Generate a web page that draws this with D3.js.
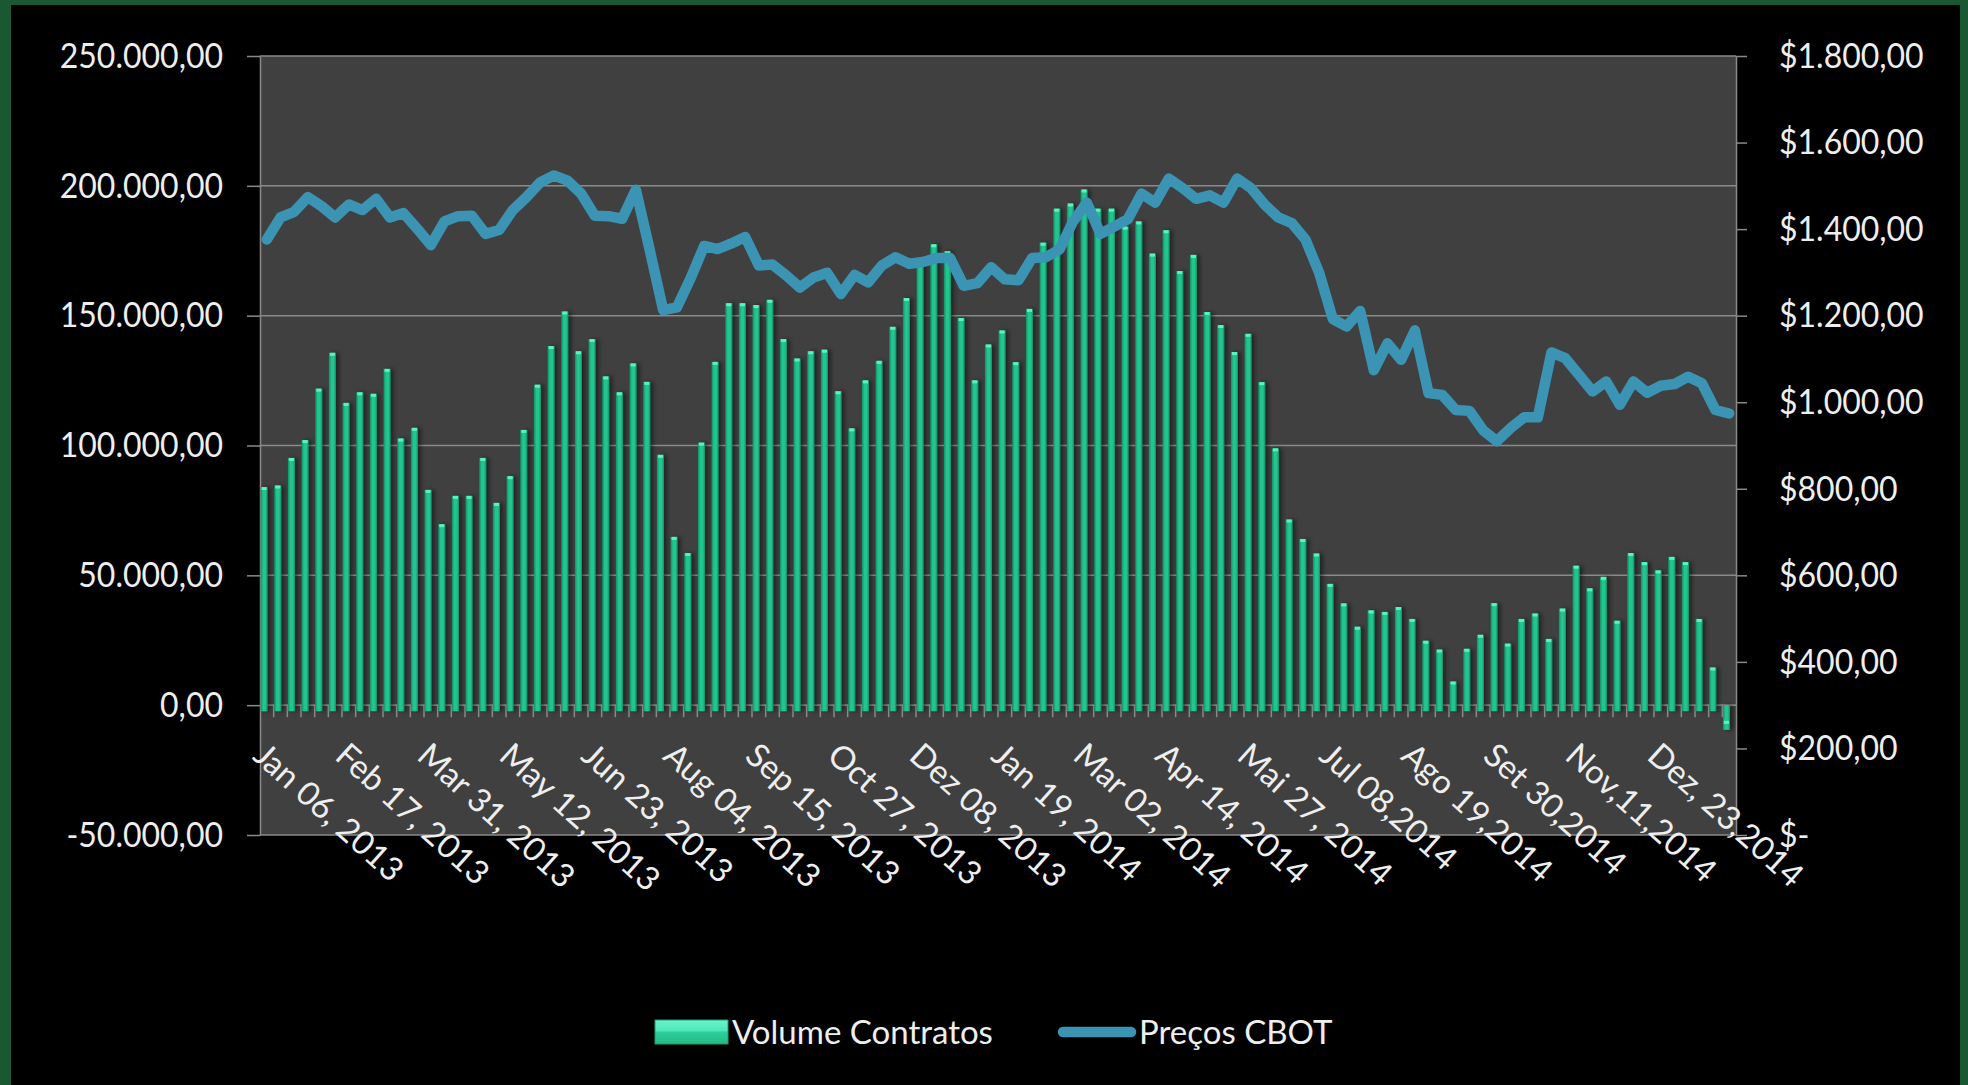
<!DOCTYPE html>
<html>
<head>
<meta charset="utf-8">
<script src="https://cdn.jsdelivr.net/npm/d3@7"></script>
<style>
  body { margin: 0; background: #000; }
  text { font-family: Lato, "Open Sans", sans-serif; fill: #eeeeee; }
</style>
</head>
<body>
<script>
/**********************
 ***      Data      ***
 **********************/

// weekly volume of contracts (bars, left axis)
const volume = [
  84000, 84600, 95200, 102100, 121900, 135700, 116400, 120500, 119900, 129500,
  102700, 106800, 82900, 69700, 80600, 80600, 95200, 77900, 88200, 106000,
  123400, 138300, 151600, 136300, 141000, 126600, 120500, 131600, 124500, 96400,
  64800, 58600, 101100, 132200, 154800, 154800, 154100, 156100, 141000, 133500,
  136300, 136900, 120900, 106600, 125100, 132600, 145700, 156800, 170000, 177500,
  174800, 149100, 125100, 138900, 144300, 132100, 152600, 178100, 191200, 193200,
  198600, 191200, 191200, 184300, 186300, 173900, 182900, 167200, 173400, 151400,
  146400, 136000, 143000, 124400, 98900, 71500, 64000, 58400, 46700, 39200,
  30200, 36500, 35900, 37800, 33200, 24800, 21400, 9100, 21700, 27100,
  39300, 23700, 33200, 35300, 25500, 37200, 53700, 45000, 49400, 32500,
  58600, 55100, 51900, 57100, 55100, 33200, 14500, -7200
];

// CBOT prices (line, right axis)
const price = [
  1376, 1427, 1440, 1474, 1453, 1427, 1457, 1444, 1470, 1427, 1437, 1401,
  1363, 1418, 1430, 1431, 1389, 1398, 1444, 1474, 1508, 1524,
  1512, 1482, 1431, 1430, 1424, 1491, 1354, 1213, 1219, 1286, 1361, 1354,
  1367, 1382, 1316, 1318, 1293, 1265, 1288, 1299, 1250,
  1294, 1277, 1316, 1335, 1320, 1324, 1333, 1333, 1269, 1275, 1312, 1284,
  1282, 1333, 1335, 1353, 1418, 1461, 1389, 1406, 1423,
  1482, 1461, 1517, 1495, 1470, 1478, 1461, 1517, 1495, 1457, 1427, 1414,
  1376, 1299, 1192, 1175, 1211, 1074, 1136, 1098, 1166,
  1021, 1017, 982, 980, 935, 910, 940, 965, 965, 1115, 1102, 1064,
  1025, 1048, 994, 1048, 1022, 1038, 1042, 1059, 1044, 982, 974
];

// category labels, shown every 6 weeks
const tickLabels = [
  "Jan 06, 2013", "Feb 17, 2013", "Mar 31, 2013", "May 12, 2013", "Jun 23, 2013",
  "Aug 04, 2013", "Sep 15, 2013", "Oct 27, 2013", "Dez 08, 2013", "Jan 19, 2014",
  "Mar 02, 2014", "Apr 14, 2014", "Mai 27, 2014", "Jul 08,2014", "Ago 19,2014",
  "Set 30,2014", "Nov,11,2014", "Dez, 23,2014"
];
const labelEvery = 6;

const leftTicks = [-50000, 0, 50000, 100000, 150000, 200000, 250000];
const rightTicks = [0, 200, 400, 600, 800, 1000, 1200, 1400, 1600, 1800];

const seriesNames = ["Volume Contratos", "Preços CBOT"];

/**********************
 ***   Constants    ***
 **********************/
const SCREEN = { width: 1968, height: 1085 };
const PLOT = { left: 260, right: 1736, top: 56, bottom: 835 };

const COLORS = {
  frame: "#1a5834",
  plot: "#404040",
  grid: "#8a8a8a",
  line: "#3b94b3",
  barDark: "#0f8d63",
  barLight: "#22c590"
};

const ptBR = d3.formatLocale({
  decimal: ",", thousands: ".", grouping: [3], currency: ["$", ""], minus: "-"
});
const fmtLeft = ptBR.format(",.2f");
const fmtRight = d => d === 0 ? "$-" : ptBR.format("$,.2f")(d);

/**********************
 ***     Scales     ***
 **********************/
const x = d3.scaleBand()
  .domain(volume.map((d, i) => i))
  .range([PLOT.left, PLOT.right])
  .padding(0);
const bw = x.bandwidth();

const yLeft = d3.scaleLinear().domain([-50000, 250000]).range([PLOT.bottom, PLOT.top]);
const yRight = d3.scaleLinear().domain([0, 1800]).range([PLOT.bottom, PLOT.top]);

/**********************
 ***      SVG       ***
 **********************/
const svg = d3.select("body").append("svg")
  .attr("width", SCREEN.width)
  .attr("height", SCREEN.height);

const defs = svg.append("defs");
const grad = defs.append("linearGradient").attr("id", "barGrad")
  .attr("x1", "0%").attr("x2", "100%").attr("y1", "0%").attr("y2", "0%");
grad.append("stop").attr("offset", "0%").attr("stop-color", COLORS.barDark);
grad.append("stop").attr("offset", "35%").attr("stop-color", COLORS.barLight);
grad.append("stop").attr("offset", "70%").attr("stop-color", COLORS.barLight);
grad.append("stop").attr("offset", "100%").attr("stop-color", COLORS.barDark);

const shadow = defs.append("filter").attr("id", "shadow")
  .attr("x", "-50%").attr("y", "-5%").attr("width", "250%").attr("height", "110%");
shadow.append("feDropShadow").attr("dx", 3).attr("dy", 0)
  .attr("stdDeviation", 2).attr("flood-color", "#000").attr("flood-opacity", 0.45);

const legGrad = defs.append("linearGradient").attr("id", "legGrad")
  .attr("x1", "0%").attr("x2", "0%").attr("y1", "0%").attr("y2", "100%");
legGrad.append("stop").attr("offset", "0%").attr("stop-color", "#6af5cc");
legGrad.append("stop").attr("offset", "45%").attr("stop-color", "#4fe6b8");
legGrad.append("stop").attr("offset", "50%").attr("stop-color", "#2dcf9a");
legGrad.append("stop").attr("offset", "100%").attr("stop-color", "#25b986");

// green frame + black background
svg.append("rect").attr("width", SCREEN.width).attr("height", SCREEN.height).attr("fill", COLORS.frame);
svg.append("rect").attr("x", 11).attr("y", 5)
  .attr("width", SCREEN.width - 11 - 8).attr("height", SCREEN.height - 5)
  .attr("fill", "#000");

// plot area
svg.append("rect")
  .attr("x", PLOT.left).attr("y", PLOT.top)
  .attr("width", PLOT.right - PLOT.left).attr("height", PLOT.bottom - PLOT.top)
  .attr("fill", COLORS.plot);

// gridlines
svg.append("g").selectAll("line")
  .data(leftTicks)
  .join("line")
  .attr("x1", PLOT.left).attr("x2", PLOT.right)
  .attr("y1", d => yLeft(d)).attr("y2", d => yLeft(d))
  .attr("stroke", COLORS.grid).attr("stroke-width", 1.5);

/**********************
 ***      Axes      ***
 **********************/
const leftAxis = svg.append("g")
  .attr("transform", `translate(${PLOT.left},0)`)
  .call(d3.axisLeft(yLeft).tickValues(leftTicks).tickFormat(fmtLeft)
    .tickSize(13).tickSizeOuter(0).tickPadding(24));

const rightAxis = svg.append("g")
  .attr("transform", `translate(${PLOT.right},0)`)
  .call(d3.axisRight(yRight).tickValues(rightTicks).tickFormat(fmtRight)
    .tickSize(11).tickSizeOuter(0).tickPadding(32));

[leftAxis, rightAxis].forEach(g => {
  g.selectAll("path, line").attr("stroke", COLORS.grid).attr("stroke-width", 1.5);
  g.selectAll("text")
    .style("font-family", "Lato, 'Open Sans', sans-serif")
    .style("font-size", "32px")
    .attr("transform", "scale(1,1.1)")
    .attr("fill", "#eeeeee");
});

// category axis at zero
const zeroY = yLeft(0);
const catAxis = svg.append("g");
catAxis.append("line")
  .attr("x1", PLOT.left).attr("x2", PLOT.right)
  .attr("y1", zeroY).attr("y2", zeroY)
  .attr("stroke", COLORS.grid).attr("stroke-width", 1.5);
catAxis.selectAll("line.tick")
  .data(x.domain().slice(1))
  .join("line")
  .attr("class", "tick")
  .attr("x1", d => x(d)).attr("x2", d => x(d))
  .attr("y1", zeroY).attr("y2", zeroY + 12)
  .attr("stroke", COLORS.grid).attr("stroke-width", 1.5);

/**********************
 ***      Bars      ***
 **********************/
const barW = bw * 0.52;
const barX = i => x(i) + bw * 0.04;

const bars = svg.append("g").attr("filter", "url(#shadow)");
bars.selectAll("rect.bar")
  .data(volume)
  .join("rect")
  .attr("class", "bar")
  .attr("x", (d, i) => barX(i))
  .attr("width", barW)
  .attr("y", d => Math.min(yLeft(d), zeroY))
  .attr("height", d => Math.abs(yLeft(d) - zeroY) + 6)
  .attr("fill", "url(#barGrad)");

// bevel cap at bar tops
svg.append("g").selectAll("rect")
  .data(volume)
  .join("rect")
  .attr("x", (d, i) => barX(i) + 1)
  .attr("width", barW - 2)
  .attr("y", d => d >= 0 ? yLeft(d) : yLeft(d) - 3)
  .attr("height", 3)
  .attr("fill", "#5ff0c0");

/**********************
 ***      Line      ***
 **********************/
const line = d3.line()
  .x((d, i) => x(i) + bw / 2)
  .y(d => yRight(d));

svg.append("path")
  .datum(price)
  .attr("d", line)
  .attr("fill", "none")
  .attr("stroke", COLORS.line)
  .attr("stroke-width", 10.5)
  .attr("stroke-linejoin", "round")
  .attr("stroke-linecap", "round");

/**********************
 ***  Axis labels   ***
 **********************/
svg.append("g").selectAll("text")
  .data(tickLabels)
  .join("text")
  .attr("transform", (d, k) => `translate(${x(k * labelEvery) + bw / 2 + 1},${740}) rotate(42)`)
  .attr("dy", "0.74em")
  .style("font-size", "33px")
  .text(d => d);

/**********************
 ***     Legend     ***
 **********************/
const legend = svg.append("g");
legend.append("rect")
  .attr("x", 655).attr("y", 1020).attr("width", 73).attr("height", 24)
  .attr("fill", "url(#legGrad)")
  .attr("stroke", "#1d9e72").attr("stroke-width", 1);
legend.append("text")
  .attr("x", 732).attr("y", 1032).attr("dy", "0.36em")
  .style("font-size", "33px")
  .text(seriesNames[0]);
legend.append("line")
  .attr("x1", 1063).attr("x2", 1131).attr("y1", 1032).attr("y2", 1032)
  .attr("stroke", COLORS.line).attr("stroke-width", 10.5).attr("stroke-linecap", "round");
legend.append("text")
  .attr("x", 1139).attr("y", 1032).attr("dy", "0.36em")
  .style("font-size", "33px")
  .text(seriesNames[1]);
</script>
</body>
</html>
